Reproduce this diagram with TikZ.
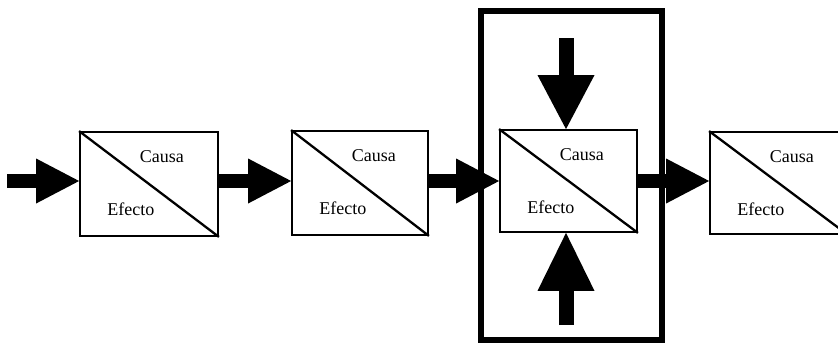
\documentclass[tikz,border=0pt]{standalone}
\usepackage{fontspec}
\setmainfont{Liberation Serif}
\usetikzlibrary{arrows.meta,calc}
\begin{document}
\begin{tikzpicture}[x=1pt,y=-1pt,
  box/.style={draw=black,line width=1.8pt,inner sep=0pt,fill=white},
  lbl/.style={inner sep=0pt,font=\fontsize{18}{20}\selectfont,anchor=base west},
  fat/.style={line width=14pt,-{Triangle[length=43pt,width=45pt,line width=0pt]}},
  fatv/.style={line width=15pt,-{Triangle[length=#1,width=57pt,line width=0pt]}},
  framebox/.style={draw=black,line width=6pt,inner sep=0pt}]
\useasboundingbox (0,0) rectangle (838,351);
% boxes
\node[box,minimum width=138pt,minimum height=104pt] (b1) at (149,184) {};
\node[box,minimum width=136pt,minimum height=104pt] (b2) at (360,183) {};
\node[box,minimum width=137pt,minimum height=102pt] (b3) at (568.5,181) {};
\node[box,minimum width=137pt,minimum height=102pt] (b4) at (778.5,183) {};
\foreach \b in {b1,b2,b3,b4}{
  \draw[line width=2.3pt] (\b.north west) -- (\b.south east);
  \node[lbl] (\b c) at ($(\b.north west)+(60.5,31.5)$) {Causa};
  \node[lbl] (\b e) at ($(\b.north west)+(28,84)$) {Efecto};
}
% frame
\node[framebox,minimum width=181.5pt,minimum height=329pt] (frame) at (571.25,175.5) {};
% horizontal arrows
\coordinate (src) at (7,181);
\draw[fat] (src) -- (src -| b1.west);
\draw[fat] (src -| b1.east) -- (src -| b2.west);
\draw[fat] (src -| b2.east) -- (src -| b3.west);
\draw[fat] (src -| b3.east) -- (src -| b4.west);
% vertical arrows
\coordinate (topsrc) at (566,38);
\coordinate (botsrc) at (566,325);
\draw[fatv=54pt] (topsrc) -- (topsrc |- b3.north);
\draw[fatv=58pt] (botsrc) -- (botsrc |- b3.south);
\end{tikzpicture}
\end{document}
